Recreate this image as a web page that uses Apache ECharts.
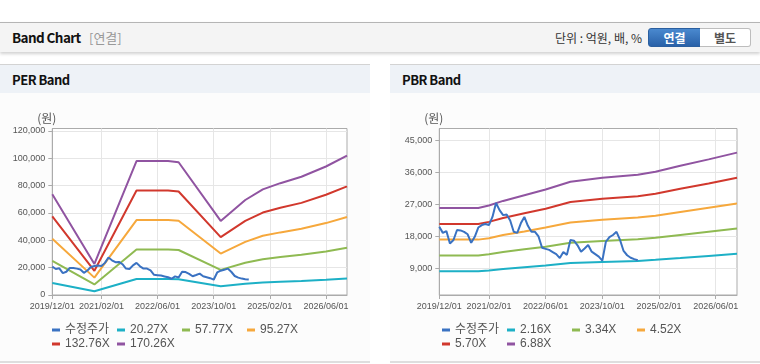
<!DOCTYPE html>
<html>
<head>
<meta charset="utf-8">
<script src="https://cdn.jsdelivr.net/npm/echarts@6/dist/echarts.min.js"></script>
<style>
  html, body { margin: 0; padding: 0; background: #fff; }
  body { width: 760px; height: 364px; position: relative; overflow: hidden;
         font-family: "Noto Sans CJK KR", "Noto Sans", sans-serif; }
  #hdr { position: absolute; left: 0; top: 22px; width: 760px; height: 29px;
         border-top: 1px solid #b5b5b5; background: #f4f4f4;
         box-shadow: 0 2px 3px rgba(0,0,0,0.18); }
  #hdr .t { position: absolute; left: 12px; top: 4px; font-size: 13.5px; font-weight: bold; color: #111; letter-spacing: -0.6px; }
  #hdr .s { position: absolute; left: 89px; top: 5px; font-size: 13px; color: #999; }
  #hdr .u { position: absolute; right: 118px; top: 6px; font-size: 12px; color: #333; }
  .btn { position: absolute; top: 5px; height: 17px; line-height: 17px; font-size: 12px; font-weight: bold;
         text-align: center; box-sizing: content-box; }
  #b1 { left: 648px; width: 51px; background: linear-gradient(#4a89cf, #2961a8); color: #fff;
        border: 1px solid #2b5f9f; border-radius: 3px 0 0 3px; }
  #b2 { left: 700px; width: 50px; background: #fff; color: #555; border: 1px solid #bdbdbd;
        border-left: none; border-radius: 0 3px 3px 0; }
  .panel { position: absolute; top: 64px; width: 370px; height: 296px; border-top: 1px solid #d3d3d3;
           border-bottom: 2px solid #dedede; background: #fcfcfc; }
  .panel .bar { position: absolute; left: 0; top: 0; width: 100%; height: 28px; background: #eef2f7; }
  .panel .bar span { position: absolute; left: 12px; top: 5px; font-size: 13px; font-weight: bold; color: #111; letter-spacing: -0.5px; }
  .chart { position: absolute; top: 93px; width: 370px; height: 268px; }
</style>
</head>
<body>
<div id="hdr">
  <span class="t">Band Chart</span><span class="s">[연결]</span>
  <span class="u">단위 : 억원, 배, %</span>
  <div class="btn" id="b1">연결</div><div class="btn" id="b2">별도</div>
</div>
<div class="panel" style="left:0"><div class="bar"><span>PER Band</span></div></div>
<div class="panel" style="left:390px"><div class="bar"><span>PBR Band</span></div></div>
<div class="chart" id="per" style="left:0"></div>
<div class="chart" id="pbr" style="left:390px"></div>
<script>
// ---- categories (monthly, 2019/12 .. 2026/12) ----
const months = [];
for (let y = 2019, m = 12; y < 2027; ) {
  months.push(y + '/' + String(m).padStart(2, '0') + '/01');
  m++; if (m > 12) { m = 1; y++; }
  if (y === 2027) break;
}
const xTickLabels = ['2019/12/01', '2021/02/01', '2022/06/01', '2023/10/01', '2025/02/01', '2026/06/01'];

// ---- adjusted price (수정주가), monthly from 2019/12 ----
const price = [20700, 19000, 19500, 16000, 17000, 19800, 19700, 19300, 18600, 16200,
  17900, 20500, 21200, 21500, 21200, 23500, 27400, 25400, 24000, 24200,
  22500, 19300, 19000, 21700, 23500, 21000, 19300, 19300, 18000, 14800,
  14500, 14200, 13600, 13000, 11900, 13600, 12800, 17000, 16800, 15500,
  13700, 14600, 15600, 13700, 13000, 12300, 11200, 16500, 17800, 18400,
  19300, 17000, 13900, 12700, 12000, 11600, 11300];

// ---- PER band ----
const perNames = ['20.27X', '57.77X', '95.27X', '132.76X', '170.26X'];
const perKeyDates = ['2019/12/01', '2020/12/01', '2021/12/01', '2022/09/01', '2022/12/01', '2023/12/01',
  '2024/07/01', '2024/12/01', '2025/05/01', '2025/11/01', '2026/06/01', '2026/12/01'];
const per20 = [8800, 2700, 11700, 11700, 11600, 6450, 8300, 9200, 9700, 10300, 11200, 12100];
const per57 = [25000, 7700, 33300, 33300, 32900, 18400, 23600, 26200, 27800, 29400, 31900, 34600];
const per95 = [41200, 12700, 54800, 54800, 54300, 30300, 38900, 43300, 45800, 48400, 52600, 57100];
const per132 = [57500, 17700, 76400, 76400, 75700, 42300, 54200, 60300, 63800, 67400, 73300, 79500];
const per170 = [73700, 22700, 98000, 98000, 97100, 54200, 69500, 77300, 81800, 86500, 94000, 102000];
const perYTicks = [0, 20000, 40000, 60000, 80000, 100000, 120000];

// ---- PBR band ----
const pbrNames = ['2.16X', '3.34X', '4.52X', '5.70X', '6.88X'];
const pbrKeyDates = ['2019/12/01', '2020/11/01', '2021/02/01', '2021/06/01', '2021/12/01', '2022/06/01',
  '2023/01/01', '2023/10/01', '2024/08/01', '2025/01/01', '2025/08/01', '2026/04/01', '2026/12/01'];
const pbr216 = [8200, 8200, 8400, 8800, 9300, 9800, 10500, 10800, 11100, 11400, 11900, 12500, 13100];
const pbr334 = [12600, 12600, 13000, 13600, 14400, 15100, 16200, 16700, 17200, 17600, 18400, 19300, 20200];
const pbr452 = [17100, 17100, 17500, 18400, 19400, 20500, 21900, 22700, 23300, 23800, 24900, 26100, 27300];
const pbr570 = [21500, 21500, 22100, 23200, 24500, 25800, 27700, 28600, 29300, 30000, 31400, 32900, 34500];
const pbr688 = [26000, 26000, 26700, 28000, 29600, 31200, 33400, 34500, 35400, 36200, 37900, 39700, 41600];
const pbrYTicks = [9000, 18000, 27000, 36000, 45000];

const priceName = '수정주가';
const colors = ['#3a72c2', '#1db0c6', '#8fba52', '#f6a83c', '#d1382d', '#9054a1'];
const FONT = '"Liberation Sans", Arial, "Noto Sans CJK KR", sans-serif';

function build(el, cfg) {
  const chart = echarts.init(document.getElementById(el), null, { renderer: 'canvas' });
  const isTick = (i, v) => xTickLabels.indexOf(v) >= 0;
  const series = cfg.bands.map((vals, k) => ({
    name: cfg.names[k], type: 'line', showSymbol: false, symbol: 'none',
    data: cfg.keys.map((d, i) => [d, vals[i]]),
    lineStyle: { width: 2, color: colors[k + 1] }, itemStyle: { color: colors[k + 1] },
    z: 2, animation: false
  }));
  series.push({
    name: priceName, type: 'line', showSymbol: false, symbol: 'none', data: price,
    lineStyle: { width: 2, color: colors[0] }, itemStyle: { color: colors[0] }, z: 3, animation: false
  });
  chart.setOption({
    animation: false,
    textStyle: { fontFamily: FONT },
    grid: { left: cfg.left, right: 23, top: 35.5, height: 166.5, show: true, containLabel: false,
            borderColor: '#ababab', borderWidth: 1, backgroundColor: '#fff' },
    xAxis: {
      type: 'category', data: months, boundaryGap: false,
      axisLine: { lineStyle: { color: '#ababab' } },
      axisTick: { show: true, interval: isTick, length: 4, lineStyle: { color: '#ababab' } },
      splitLine: { show: true, interval: isTick, lineStyle: { color: '#e6e6e6' } },
      axisLabel: { interval: isTick, showMinLabel: true, hideOverlap: false, color: '#555', fontSize: 9, margin: 7, fontFamily: FONT }
    },
    yAxis: {
      type: 'value', min: cfg.min, max: cfg.max,
      name: '(원)', nameLocation: 'end', nameGap: 4,
      nameTextStyle: { color: '#555', fontSize: 12, padding: [0, 11, 0, 0], fontFamily: '"Noto Sans CJK KR", sans-serif' },
      axisLine: { show: true, lineStyle: { color: '#ababab' } },
      axisTick: { show: true, length: 4, customValues: cfg.yTicks, lineStyle: { color: '#ababab' } },
      splitLine: { show: true, lineStyle: { color: '#e6e6e6' } },
      axisLabel: { customValues: cfg.yTicks, color: '#555', fontSize: 9, margin: 7, fontFamily: FONT,
                   formatter: v => Number(v).toLocaleString('en-US') }
    },
    legend: {
      left: 52, top: 231, width: 262, orient: 'horizontal', padding: 0,
      icon: 'rect', itemWidth: 8, itemHeight: 3, itemGap: 2,
      data: [priceName].concat(cfg.names),
      textStyle: { color: '#555', fontSize: 12, width: 50, lineHeight: 11.5, fontFamily: FONT }
    },
    series: series
  });
}

build('per', { left: 52.3, min: 0, max: 121800, yTicks: perYTicks, names: perNames, keys: perKeyDates,
               bands: [per20, per57, per95, per132, per170] });
build('pbr', { left: 49.3, min: 1500, max: 48400, yTicks: pbrYTicks, names: pbrNames, keys: pbrKeyDates,
               bands: [pbr216, pbr334, pbr452, pbr570, pbr688] });
</script>
</body>
</html>
